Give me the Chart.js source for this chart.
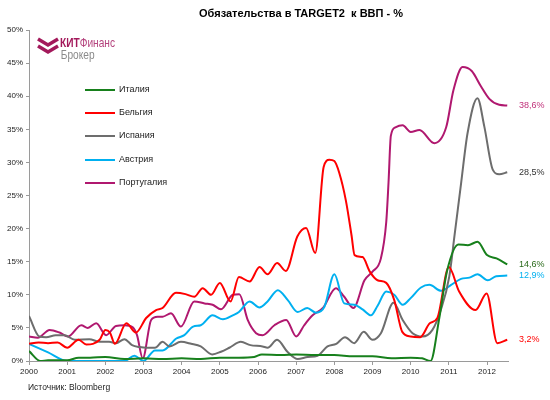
<!DOCTYPE html>
<html>
<head>
<meta charset="utf-8">
<script src="https://cdn.jsdelivr.net/npm/chart.js@4.4.1/dist/chart.umd.min.js"></script>
<style>
  html, body { margin: 0; padding: 0; background: #fff; }
  #wrap { width: 550px; height: 400px; position: relative; }
</style>
</head>
<body>
<div id="wrap"><canvas id="target2Chart"></canvas></div>
<script>
// Значения читаются с картинки (годы - десятичные)
const seriesNames = ['Италия', 'Бельгия', 'Испания', 'Австрия', 'Португалия'];
const seriesColors = ['#17801c', '#ff0000', '#6d6d6d', '#00b0f0', '#b0186f'];
const endLabelColors = ['#2a6a1a', '#ff0000', '#333333', '#00b0f0', '#c0307a'];
const yTicks = [0, 5, 10, 15, 20, 25, 30, 35, 40, 45, 50];
const xYears = [2000, 2001, 2002, 2003, 2004, 2005, 2006, 2007, 2008, 2009, 2010, 2011, 2012];

const italyYears = [2000, 2000.3, 2000.5, 2001, 2001.3, 2001.6, 2002, 2002.5, 2003, 2003.5, 2004, 2004.5, 2005, 2005.5, 2005.9, 2006.1, 2006.6, 2007, 2007.5, 2008, 2008.5, 2009, 2009.5, 2010, 2010.3, 2010.52, 2010.75, 2010.95, 2011.25, 2011.5, 2011.75, 2012, 2012.25, 2012.53];
const italyValues = [1.5, 0, 0.1, 0.1, 0.5, 0.5, 0.6, 0.3, 0.4, 0.3, 0.4, 0.3, 0.5, 0.5, 0.6, 1.0, 0.9, 1.0, 0.9, 0.9, 0.7, 0.7, 0.4, 0.5, 0.4, 0, 6.5, 13.5, 17.6, 17.5, 18.0, 16.0, 15.5, 14.6];

const belgiumYears = [2000, 2000.25, 2000.5, 2000.75, 2001, 2001.3, 2001.5, 2001.85, 2002, 2002.12, 2002.25, 2002.55, 2002.8, 2003.07, 2003.33, 2003.5, 2003.85, 2004.1, 2004.33, 2004.55, 2004.77, 2005, 2005.28, 2005.5, 2005.78, 2006.04, 2006.25, 2006.5, 2006.73, 2007.03, 2007.26, 2007.5, 2007.72, 2007.87, 2008, 2008.13, 2008.3, 2008.45, 2008.53, 2008.74, 2008.93, 2009.13, 2009.36, 2009.57, 2009.78, 2010, 2010.25, 2010.5, 2010.7, 2011, 2011.27, 2011.7, 2011.99, 2012.27, 2012.53];
const belgiumValues = [2.6, 2.8, 2.7, 2.8, 2.0, 3.2, 2.5, 3.2, 4.7, 4.3, 2.6, 5.7, 4.3, 6.5, 7.7, 8.0, 10.3, 10.1, 9.7, 11.0, 10.0, 11.8, 9.0, 12.7, 12.0, 14.2, 13.1, 14.8, 13.6, 18.8, 20.1, 16.3, 29.3, 30.4, 30.2, 28.4, 24.3, 19.0, 16.0, 15.7, 13.5, 12.2, 11.8, 9.2, 4.4, 3.7, 3.6, 5.7, 6.5, 14.2, 10.5, 7.7, 10.2, 2.7, 3.2];

const spainYears = [2000, 2000.27, 2000.45, 2000.7, 2000.93, 2001.2, 2001.58, 2001.85, 2002.1, 2002.28, 2002.5, 2002.7, 2002.9, 2003.1, 2003.3, 2003.5, 2003.68, 2003.98, 2004.25, 2004.5, 2004.8, 2005.03, 2005.25, 2005.55, 2005.8, 2006.12, 2006.25, 2006.5, 2006.77, 2007.04, 2007.3, 2007.56, 2007.82, 2008.05, 2008.28, 2008.52, 2008.77, 2009, 2009.22, 2009.55, 2009.79, 2010.05, 2010.31, 2010.57, 2010.79, 2011.01, 2011.15, 2011.32, 2011.49, 2011.75, 2011.93, 2012.15, 2012.32, 2012.53];
const spainValues = [6.8, 3.7, 3.6, 3.9, 3.9, 3.2, 3.3, 2.9, 2.9, 2.7, 3.3, 2.4, 2.1, 2.0, 2.0, 2.9, 2.2, 2.9, 2.6, 2.2, 1.0, 1.4, 2.0, 2.9, 2.4, 2.2, 2.0, 3.2, 1.4, 0.3, 0.6, 0.8, 2.2, 2.6, 3.6, 2.7, 4.4, 3.2, 4.2, 8.8, 6.2, 4.2, 3.7, 4.7, 7.7, 12.7, 19.0, 26.8, 34.4, 39.7, 35.4, 28.9, 28.2, 28.5];

const austriaYears = [2000, 2000.5, 2001, 2002.5, 2002.76, 2003, 2003.3, 2003.5, 2003.86, 2004.07, 2004.3, 2004.5, 2004.81, 2005.08, 2005.34, 2005.5, 2005.78, 2006.04, 2006.25, 2006.52, 2006.78, 2007.04, 2007.29, 2007.52, 2007.74, 2008, 2008.26, 2008.52, 2008.74, 2008.96, 2009.13, 2009.36, 2009.57, 2009.79, 2010, 2010.27, 2010.49, 2010.8, 2011.06, 2011.32, 2011.54, 2011.75, 2012.02, 2012.24, 2012.53];
const austriaValues = [2.6, 1.3, 0, 0, 0.8, 0, 1.6, 1.6, 3.4, 3.9, 5.2, 5.4, 6.9, 6.3, 6.9, 7.4, 9.0, 8.1, 9.0, 10.7, 9.2, 7.4, 8.0, 7.3, 8.2, 13.1, 8.7, 8.5, 7.8, 6.9, 8.3, 10.5, 10.0, 8.5, 9.5, 11.1, 11.5, 10.6, 11.5, 12.4, 12.6, 13.1, 12.2, 12.8, 12.9];

const portugalYears = [2000, 2000.23, 2000.54, 2000.8, 2001.02, 2001.37, 2001.54, 2001.76, 2002.02, 2002.28, 2002.5, 2002.72, 2002.83, 2002.98, 2003.2, 2003.37, 2003.5, 2003.72, 2003.98, 2004.33, 2004.6, 2004.81, 2005.03, 2005.34, 2005.51, 2005.73, 2005.95, 2006.12, 2006.43, 2006.74, 2007, 2007.21, 2007.43, 2007.7, 2008.04, 2008.26, 2008.5, 2008.79, 2009, 2009.22, 2009.36, 2009.42, 2009.48, 2009.6, 2009.79, 2010, 2010.23, 2010.62, 2010.93, 2011.12, 2011.36, 2011.6, 2011.84, 2012.06, 2012.32, 2012.53];
const portugalValues = [3.7, 3.5, 4.7, 4.3, 3.7, 5.4, 5.0, 5.7, 3.9, 5.3, 5.4, 5.1, 3.9, 0.4, 6.2, 6.7, 6.7, 7.2, 5.2, 9.0, 8.7, 8.5, 7.8, 10.0, 10.1, 6.2, 4.2, 3.9, 5.4, 6.2, 3.7, 5.4, 6.9, 8.0, 11.0, 9.7, 8.0, 12.2, 13.5, 15.5, 21.0, 27.0, 34.0, 35.3, 35.6, 34.6, 34.9, 32.9, 35.3, 40.9, 44.4, 43.8, 41.5, 39.6, 38.7, 38.6];

const allYears = [italyYears, belgiumYears, spainYears, austriaYears, portugalYears];
const allValues = [italyValues, belgiumValues, spainValues, austriaValues, portugalValues];

function fmtPct(v) {
    return v.toFixed(1).replace('.', ',') + '%';
}

const datasets = seriesNames.map((name, i) => ({
    label: name,
    data: allYears[i].map((x, k) => ({ x: x, y: allValues[i][k] })),
    borderColor: seriesColors[i],
    borderWidth: 2,
    pointRadius: 0,
    fill: false,
    cubicInterpolationMode: 'monotone'
}));

const extrasPlugin = {
    id: 'extras',
    afterDraw(chart) {
        const ctx = chart.ctx;
        const xs = chart.scales.x;
        const ys = chart.scales.y;
        ctx.save();

        // заголовок
        ctx.fillStyle = '#000';
        ctx.font = 'bold 11px "Liberation Sans", Arial, sans-serif';
        ctx.textAlign = 'center';
        ctx.textBaseline = 'middle';
        ctx.fillText('Обязательства в TARGET2  к ВВП - %', 301, 14);

        // логотип
        ctx.strokeStyle = '#a3195b';
        ctx.lineWidth = 3.5;
        ctx.lineJoin = 'miter';
        [39, 46].forEach(top => {
            ctx.beginPath();
            ctx.moveTo(38, top);
            ctx.lineTo(48, top + 6);
            ctx.lineTo(58, top);
            ctx.stroke();
        });
        ctx.textAlign = 'left';
        ctx.textBaseline = 'alphabetic';
        ctx.save();
        ctx.translate(60, 0);
        ctx.scale(0.78, 1);
        ctx.font = 'bold 13px "Liberation Sans", Arial, sans-serif';
        ctx.fillStyle = '#a3195b';
        ctx.fillText('КИТ', 0, 47);
        const kw = ctx.measureText('КИТ').width;
        ctx.font = '13px "Liberation Sans", Arial, sans-serif';
        ctx.fillStyle = '#b4437d';
        ctx.fillText('Финанс', kw, 47);
        ctx.fillStyle = '#8a8a8a';
        ctx.fillText('Брокер', 1, 59);
        ctx.restore();

        // легенда
        const legendY = [90, 113, 136, 160, 183];
        ctx.font = '9px "Liberation Sans", Arial, sans-serif';
        ctx.textBaseline = 'middle';
        seriesNames.forEach((name, i) => {
            ctx.strokeStyle = seriesColors[i];
            ctx.lineWidth = 2;
            ctx.beginPath();
            ctx.moveTo(85, legendY[i]);
            ctx.lineTo(115, legendY[i]);
            ctx.stroke();
            ctx.fillStyle = '#222';
            ctx.fillText(name, 119, legendY[i]);
        });

        // подписи последних значений
        ctx.font = '9px "Liberation Sans", Arial, sans-serif';
        allValues.forEach((vals, i) => {
            const last = vals[vals.length - 1];
            ctx.fillStyle = endLabelColors[i];
            ctx.fillText(fmtPct(last), xs.right + 11, ys.getPixelForValue(last));
        });

        // источник
        ctx.fillStyle = '#222';
        ctx.font = '8.5px "Liberation Sans", Arial, sans-serif';
        ctx.fillText('Источник: Bloomberg', 28, 388);

        ctx.restore();
    }
};

new Chart(document.getElementById('target2Chart').getContext('2d'), {
    type: 'line',
    data: { datasets },
    options: {
        responsive: true,
        maintainAspectRatio: false,
        animation: false,
        layout: { padding: { top: 30, right: 42, bottom: 0, left: 0 } },
        plugins: {
            legend: { display: false },
            tooltip: { enabled: false },
            title: { display: false }
        },
        scales: {
            x: {
                type: 'linear',
                min: 2000,
                max: 2012.55,
                afterFit: s => { s.height = 39; },
                afterBuildTicks: s => {
                    s.ticks = xYears.map(v => ({ value: v }));
                },
                grid: { drawOnChartArea: false, drawTicks: true, tickLength: 4, color: '#9a9a9a' },
                border: { color: '#9a9a9a', width: 1 },
                ticks: {
                    autoSkip: false,
                    maxRotation: 0,
                    padding: 2,
                    color: '#222',
                    font: { family: '"Liberation Sans", Arial, sans-serif', size: 8 },
                    callback: v => String(v)
                }
            },
            y: {
                min: 0,
                max: 50,
                afterFit: s => { s.width = 29; },
                afterBuildTicks: s => {
                    s.ticks = yTicks.map(v => ({ value: v }));
                },
                grid: { drawOnChartArea: false, drawTicks: true, tickLength: 3, color: '#9a9a9a' },
                border: { color: '#9a9a9a', width: 1 },
                ticks: {
                    padding: 3,
                    color: '#222',
                    font: { family: '"Liberation Sans", Arial, sans-serif', size: 8 },
                    callback: v => v + '%'
                }
            }
        }
    },
    plugins: [extrasPlugin]
});
</script>
</body>
</html>
